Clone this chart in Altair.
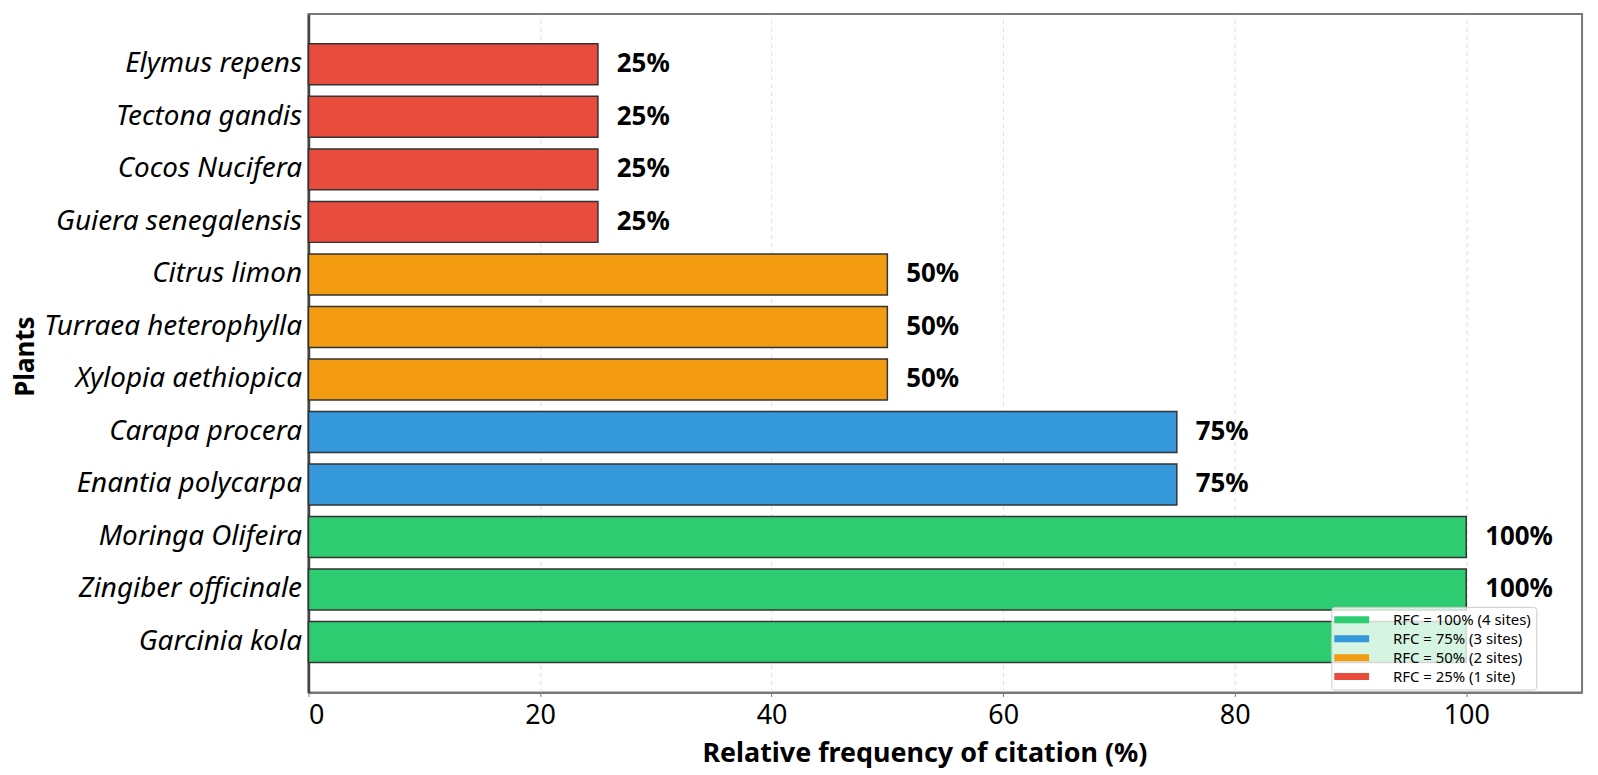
import altair as alt
import pandas as pd

plants = ["Elymus repens", "Tectona gandis", "Cocos Nucifera", "Guiera senegalensis",
          "Citrus limon", "Turraea heterophylla", "Xylopia aethiopica",
          "Carapa procera", "Enantia polycarpa",
          "Moringa Olifeira", "Zingiber officinale", "Garcinia kola"]
rfc = [25, 25, 25, 25, 50, 50, 50, 75, 75, 100, 100, 100]
value_labels = ["25%", "25%", "25%", "25%", "50%", "50%", "50%", "75%", "75%",
                "100%", "100%", ""]
groups = ["RFC = 100% (4 sites)", "RFC = 75% (3 sites)", "RFC = 50% (2 sites)", "RFC = 25% (1 site)"]
group_of_value = {100: groups[0], 75: groups[1], 50: groups[2], 25: groups[3]}
colors = ["#2ecc71", "#3498db", "#f39c12", "#e74c3c"]
x_ticks = [0, 20, 40, 60, 80, 100]

df = pd.DataFrame({
    "plant": plants,
    "rfc": rfc,
    "label": value_labels,
    "group": [group_of_value[v] for v in rfc],
})

FONT = "Noto Sans"

y_enc = alt.Y("plant:N", sort=plants,
              scale=alt.Scale(paddingInner=0.22, paddingOuter=0.57),
              axis=alt.Axis(title="Plants", labelFont=FONT, labelFontSize=28,
                            labelFontStyle="italic", labelColor="#000", labelLimit=0,
                            labelPadding=7, ticks=False, domainColor="#444",
                            domainWidth=2.5, grid=False,
                            titleFont=FONT, titleFontSize=26, titleFontWeight="bold",
                            titleColor="#000", titleAngle=270, titleX=-276, titleY=344,
                            titleAlign="center", titleBaseline="alphabetic"))

x_enc = alt.X("rfc:Q", scale=alt.Scale(domain=[0, 110], nice=False),
              axis=alt.Axis(title="Relative frequency of citation (%)", values=x_ticks,
                            labelFont=FONT, labelFontSize=27, labelColor="#000",
                            labelBaseline="top", labelPadding=6, tickSize=4,
                            tickColor="#777", domainColor="#777", domainWidth=2,
                            grid=True, gridColor="#dddddd", gridDash=[4, 4], gridWidth=1,
                            titleFont=FONT, titleFontSize=27, titleFontWeight="bold",
                            titleColor="#000", titleX=619, titleY=61,
                            titleAlign="center", titleBaseline="middle"))

bars = alt.Chart(df).mark_bar(stroke="#333333", strokeWidth=1.5).encode(
    y=y_enc,
    x=x_enc,
    color=alt.Color("group:N",
                    scale=alt.Scale(domain=groups, range=colors),
                    legend=alt.Legend(title=None, orient="none", legendX=1028, legendY=596,
                                      symbolType="M-1.25,-0.44H3.125V0.44H-1.25Z",
                                      symbolSize=256, symbolStrokeWidth=0,
                                      symbolOpacity=1,
                                      labelFont=FONT, labelFontSize=15, labelColor="#000",
                                      labelOffset=41, rowPadding=3, padding=5,
                                      fillColor="rgba(255,255,255,0.8)",
                                      strokeColor="#cccccc", cornerRadius=3)),
)

texts = alt.Chart(df).transform_filter(
    alt.datum.label != ""
).mark_text(align="left", baseline="middle", dx=19, font=FONT,
            fontSize=26, fontWeight="bold", color="#000").encode(
    y=alt.Y("plant:N", sort=plants),
    x=alt.X("rfc:Q"),
    text="label:N",
)

chart = alt.layer(bars, texts).properties(
    width=1280, height=682,
    background="white",
    autosize=alt.AutoSizeParams(type="none"),
    padding={"left": 302, "top": 4, "right": 8, "bottom": 80},
).configure_view(stroke="#777777", strokeWidth=2)

chart.save("out.html", embed_options={"renderer": "svg", "actions": False})
